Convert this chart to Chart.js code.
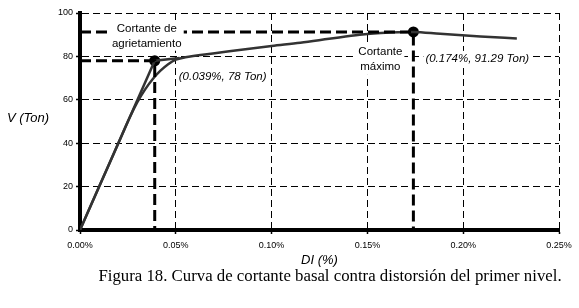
<!DOCTYPE html>
<html><head><meta charset="utf-8">
<script src="https://cdn.jsdelivr.net/npm/chart.js@4"></script>
<style>html,body{margin:0;padding:0;background:#fff;}#wrap{width:579px;height:308px;}</style>
</head><body><div id="wrap"><canvas id="c" width="579" height="308"></canvas></div>
<script>
// ---- data ----
const driftPct = [0, 0.010, 0.020, 0.026, 0.030, 0.034, 0.038, 0.042, 0.046, 0.050, 0.055, 0.060, 0.080, 0.100, 0.115, 0.130, 0.146, 0.157, 0.174, 0.188, 0.209, 0.228];
const shearTon = [0, 20.0, 40.0, 52.0, 59.0, 64.8, 69.6, 73.4, 76.4, 78.5, 79.6, 80.3, 82.6, 84.8, 86.3, 88.1, 90.0, 90.8, 91.29, 90.4, 89.2, 88.3];
const idealDrift = [0, 0.039, 0.052];
const idealShear = [0, 78, 79.3];
const crackPoint = {x: 0.039, y: 78};
const peakPoint = {x: 0.174, y: 91.29};
const xTickValues = [0, 0.05, 0.10, 0.15, 0.20, 0.25];
const xTickLabels = ['0.00%', '0.05%', '0.10%', '0.15%', '0.20%', '0.25%'];
const yTickValues = [0, 20, 40, 60, 80, 100];
const yTickLabels = ['0', '20', '40', '60', '80', '100'];
const crackLabel = ['Cortante de', 'agrietamiento'];
const crackValueLabel = '(0.039%, 78 Ton)';
const peakLabel = ['Cortante', 'máximo'];
const peakValueLabel = '(0.174%, 91.29 Ton)';
const yTitle = 'V (Ton)';
const xTitle = 'DI (%)';
const caption = 'Figura 18. Curva de cortante basal contra distorsión del primer nivel.';

const toXY = (xs, ys) => xs.map((x, i) => ({x: x, y: ys[i]}));

const SANS = '"Liberation Sans", Arial, sans-serif';
const SERIF = '"Liberation Serif", "Times New Roman", serif';

const textPlugin = {
  id: 'texts',
  afterDraw(chart) {
    const ctx = chart.ctx;
    const xs = chart.scales.x, ys = chart.scales.y;
    const ca = chart.chartArea;
    ctx.save();
    ctx.fillStyle = '#000';
    ctx.textBaseline = 'middle';
    function box(x0, y0, x1, y1) {
      ctx.save(); ctx.fillStyle = '#fff'; ctx.fillRect(x0, y0, x1 - x0, y1 - y0); ctx.restore();
    }
    // crack label
    const cx = xs.getPixelForValue(crackPoint.x), cy = ys.getPixelForValue(crackPoint.y);
    ctx.font = '11.5px ' + SANS;
    ctx.textAlign = 'center';
    box(cx - 44, cy - 40, cx + 29, cy - 10);
    ctx.fillText(crackLabel[0], cx - 8, cy - 32);
    ctx.fillText(crackLabel[1], cx - 8, cy - 17);
    ctx.font = 'italic 11.5px ' + SANS;
    ctx.textAlign = 'left';
    ctx.fillText(crackValueLabel, cx + 24, cy + 16);
    // peak label
    const px = xs.getPixelForValue(peakPoint.x), py = ys.getPixelForValue(peakPoint.y);
    ctx.font = '11.5px ' + SANS;
    ctx.textAlign = 'center';
    box(px - 57, py + 13, px - 9, py + 43);
    ctx.fillText(peakLabel[0], px - 33, py + 20);
    ctx.fillText(peakLabel[1], px - 33, py + 35);
    ctx.font = 'italic 11.5px ' + SANS;
    ctx.textAlign = 'left';
    const w = ctx.measureText(peakValueLabel).width;
    box(px + 10, py + 19, px + 14 + w, py + 35);
    ctx.fillText(peakValueLabel, px + 12, py + 27);
    // axis titles
    ctx.font = 'italic 13px ' + SANS;
    ctx.textAlign = 'left';
    ctx.fillText(yTitle, 7, 118);
    ctx.textAlign = 'center';
    ctx.fillText(xTitle, (ca.left + ca.right) / 2, 260);
    // caption
    ctx.font = '16.8px ' + SERIF;
    ctx.fillText(caption, 330, 277);
    ctx.restore();
  }
};

new Chart(document.getElementById('c'), {
  type: 'scatter',
  data: {
    datasets: [
      { // crack reference lines
        data: [{x: 0, y: crackPoint.y}, crackPoint, {x: crackPoint.x, y: 0}],
        showLine: true, borderColor: '#000', borderWidth: 3, borderDash: [11, 5],
        pointRadius: 0, fill: false
      },
      { // peak reference lines
        data: [{x: 0, y: peakPoint.y}, peakPoint, {x: peakPoint.x, y: 0}],
        showLine: true, borderColor: '#000', borderWidth: 3, borderDash: [11, 5],
        pointRadius: 0, fill: false
      },
      { // idealized initial branch
        data: toXY(idealDrift, idealShear),
        showLine: true, borderColor: '#333', borderWidth: 2.5, pointRadius: 0, fill: false
      },
      { // capacity curve
        data: toXY(driftPct, shearTon),
        showLine: true, borderColor: '#333', borderWidth: 2.5, pointRadius: 0, fill: false,
        tension: 0.3, cubicInterpolationMode: 'monotone'
      },
      { // key points
        data: [crackPoint, peakPoint],
        showLine: false, pointRadius: 5.5, pointBackgroundColor: '#000', pointBorderColor: '#000', pointBorderWidth: 0
      }
    ]
  },
  options: {
    responsive: false,
    animation: false,
    devicePixelRatio: 1,
    layout: {padding: {top: 13, right: 20, bottom: 0, left: 0}},
    plugins: {legend: {display: false}, tooltip: {enabled: false}, title: {display: false}},
    scales: {
      x: {
        type: 'linear', min: 0, max: 0.25,
        afterBuildTicks: s => { s.ticks = xTickValues.map(v => ({value: v})); },
        afterFit: s => { s.height = 78; },
        ticks: {
          callback: (v, i) => xTickLabels[i],
          font: {family: SANS, size: 9}, color: '#000', padding: 6, maxRotation: 0, autoSkip: false
        },
        grid: {color: '#000', lineWidth: 1, tickLength: 4, tickColor: '#000', tickWidth: 1.5},
        border: {display: true, color: '#000', width: 4, dash: [7, 4]}
      },
      y: {
        type: 'linear', min: 0, max: 100,
        afterBuildTicks: s => { s.ticks = yTickValues.map(v => ({value: v})); },
        afterFit: s => { s.width = 80; },
        ticks: {
          callback: (v, i) => yTickLabels[i],
          font: {family: SANS, size: 9}, color: '#000', padding: 3
        },
        grid: {color: '#000', lineWidth: 1, tickLength: 4, tickColor: '#000', tickWidth: 1.5},
        border: {display: true, color: '#000', width: 4, dash: [7, 4]}
      }
    }
  },
  plugins: [textPlugin]
});
</script></body></html>
